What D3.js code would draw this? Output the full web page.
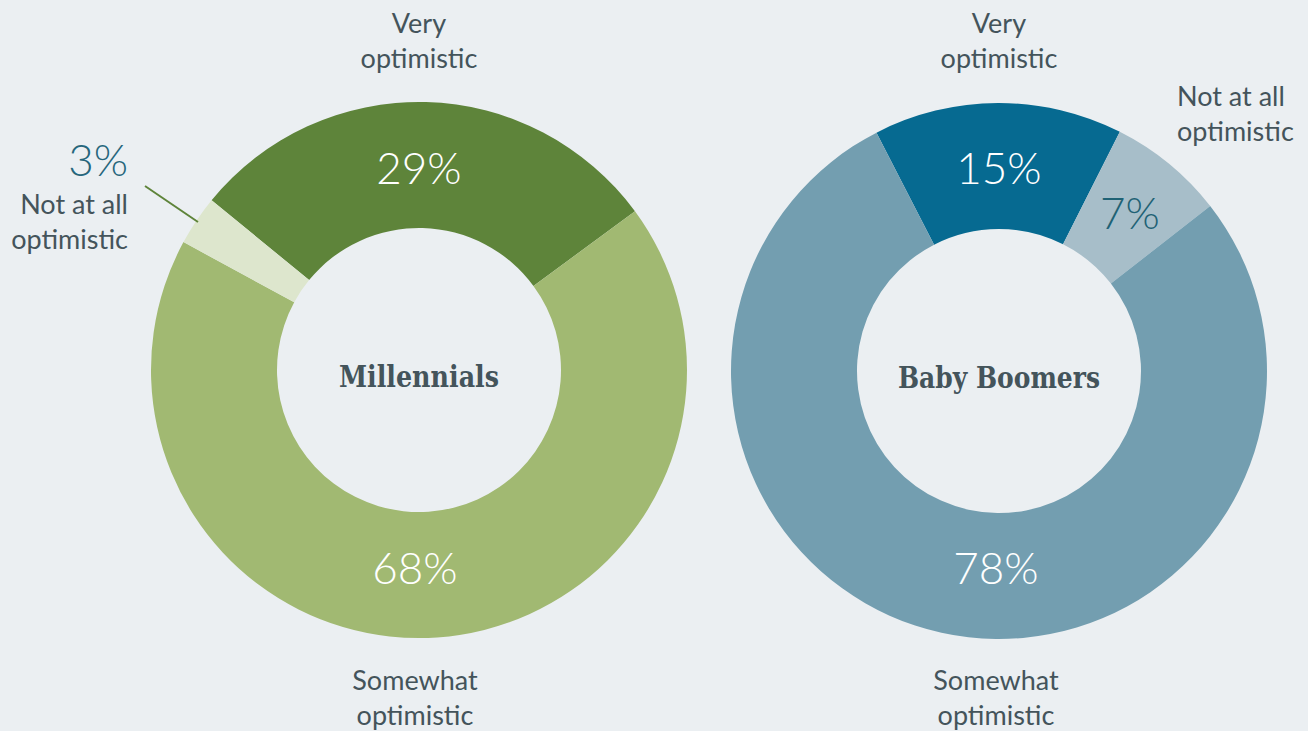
<!DOCTYPE html>
<html>
<head>
<meta charset="utf-8">
<script src="https://cdn.jsdelivr.net/npm/d3@7"></script>
<style>
  html, body { margin: 0; padding: 0; background: #ebeff2; }
  svg { display: block; }
  text { font-family: Lato, "Open Sans", sans-serif; }
</style>
</head>
<body>
<div id="chart"></div>
<script>
// data
const categories = ['Very optimistic', 'Somewhat optimistic', 'Not at all optimistic']
const millennialValues = [29, 68, 3]
const boomerValues = [15, 7, 78]
const boomerOrder = ['Very optimistic', 'Not at all optimistic', 'Somewhat optimistic']

const width = 1308, height = 731
const textColor = '#44545b'

const svg = d3.select('#chart').append('svg')
  .attr('width', width)
  .attr('height', height)

svg.append('rect')
  .attr('width', width)
  .attr('height', height)
  .attr('fill', '#ebeff2')

function drawDonut({cx, cy, startDeg, names, values, colors, title, titleWidth}) {
  const g = svg.append('g').attr('transform', `translate(${cx},${cy})`)
  const start = startDeg * Math.PI / 180
  const pie = d3.pie().sort(null).value(d => d.value)
    .startAngle(start).endAngle(start + 2 * Math.PI)
  const arc = d3.arc().innerRadius(142).outerRadius(268)
  const data = pie(names.map((n, i) => ({name: n, value: values[i]})))

  g.selectAll('path')
    .data(data)
    .enter()
    .append('path')
    .attr('d', arc)
    .attr('fill', d => colors[d.data.name])

  g.append('text')
    .attr('text-anchor', 'middle')
    .attr('y', 17)
    .attr('textLength', titleWidth)
    .attr('lengthAdjust', 'spacingAndGlyphs')
    .style('font-family', '"DejaVu Serif", serif')
    .style('font-weight', 'bold')
    .style('font-size', '30px')
    .attr('fill', textColor)
    .text(title)
  return {g, data}
}

function multiline(x, y, lines, anchor) {
  const t = svg.append('text')
    .attr('text-anchor', anchor)
    .attr('fill', textColor)
    .style('font-size', '27px')
    .style('font-weight', 400)
  lines.forEach((l, i) => {
    t.append('tspan').attr('x', x).attr('y', y + i * 35).text(l)
  })
}

function pct(g, x, y, v, color, anchor) {
  g.append('text')
    .attr('x', x).attr('y', y)
    .attr('text-anchor', anchor || 'middle')
    .attr('fill', color)
    .style('font-size', '44px')
    .style('font-weight', 300)
    .text(v + '%')
}

// Millennials
const left = drawDonut({
  cx: 419, cy: 370, startDeg: -50.7,
  names: categories, values: millennialValues,
  colors: {'Very optimistic': '#5e843a', 'Somewhat optimistic': '#a1b972', 'Not at all optimistic': '#dde6cd'},
  title: 'Millennials', titleWidth: 160
})
pct(left.g, 0, -186, millennialValues[0], '#fff')
pct(left.g, -4, 214, millennialValues[1], '#fff')
pct(svg, 128, 176, millennialValues[2], '#26667c', 'end')

svg.append('line')
  .attr('x1', 145).attr('y1', 186)
  .attr('x2', 198).attr('y2', 222)
  .attr('stroke', '#5e843a')
  .attr('stroke-width', 2)

multiline(419, 33, ['Very', 'optimistic'], 'middle')
multiline(415, 690, ['Somewhat', 'optimistic'], 'middle')
multiline(128, 214, ['Not at all', 'optimistic'], 'end')

// Baby Boomers
const right = drawDonut({
  cx: 999, cy: 371, startDeg: -27.2,
  names: boomerOrder, values: boomerValues,
  colors: {'Very optimistic': '#066a91', 'Somewhat optimistic': '#739eb0', 'Not at all optimistic': '#a7bec9'},
  title: 'Baby Boomers', titleWidth: 202
})
pct(right.g, 0, -187, boomerValues[0], '#fff')
pct(right.g, 131, -142, boomerValues[1], '#1f6275')
pct(right.g, -3, 213, boomerValues[2], '#fff')

multiline(999, 33, ['Very', 'optimistic'], 'middle')
multiline(996, 690, ['Somewhat', 'optimistic'], 'middle')
multiline(1177, 106, ['Not at all', 'optimistic'], 'start')
</script>
</body>
</html>
